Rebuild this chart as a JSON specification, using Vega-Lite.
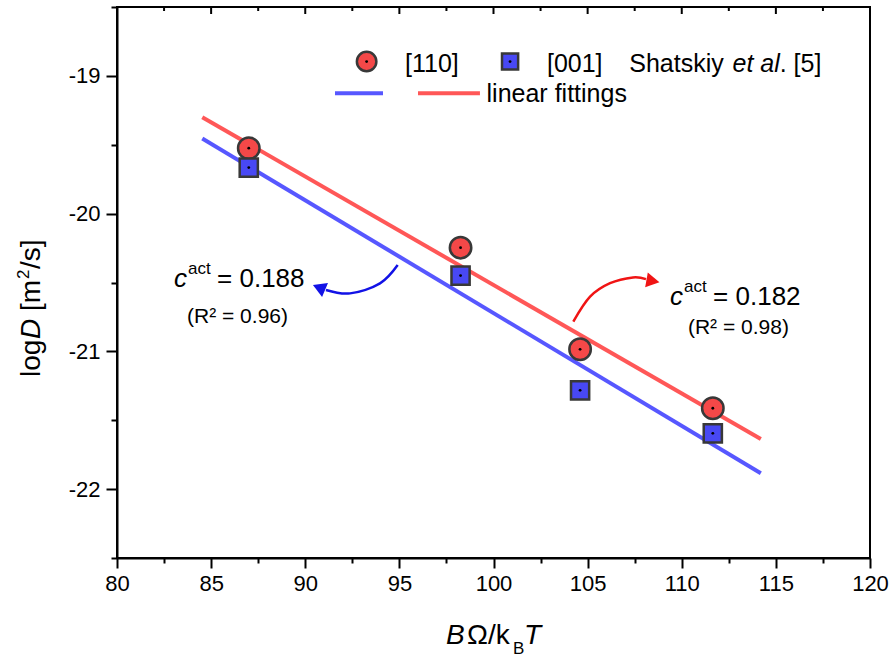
{
  "$schema": "https://vega.github.io/schema/vega-lite/v6.json",
  "width": 753,
  "height": 551,
  "autosize": {"type": "none"},
  "padding": {"left": 117, "top": 7, "right": 24, "bottom": 99},
  "background": "white",
  "config": {
    "view": {"stroke": "black", "strokeWidth": 2},
    "font": "Liberation Sans",
    "text": {"font": "Liberation Sans", "color": "black"}
  },
  "datasets": {
    "points": [
      {"series": "[110]", "x": 87.0, "y": -19.525},
      {"series": "[110]", "x": 98.25, "y": -20.247},
      {"series": "[110]", "x": 104.6, "y": -20.985},
      {"series": "[110]", "x": 111.65, "y": -21.413},
      {"series": "[001]", "x": 87.0, "y": -19.666},
      {"series": "[001]", "x": 98.25, "y": -20.45},
      {"series": "[001]", "x": 104.6, "y": -21.283},
      {"series": "[001]", "x": 111.65, "y": -21.595}
    ],
    "fits": [
      {"series": "[110]", "x": 84.53, "y": -19.3},
      {"series": "[110]", "x": 114.2, "y": -21.636},
      {"series": "[001]", "x": 84.53, "y": -19.455},
      {"series": "[001]", "x": 114.2, "y": -21.885}
    ],
    "topTicks": [
      {"x": 82.5, "y": -18.5, "major": false},
      {"x": 85, "y": -18.5, "major": true},
      {"x": 87.5, "y": -18.5, "major": false},
      {"x": 90, "y": -18.5, "major": true},
      {"x": 92.5, "y": -18.5, "major": false},
      {"x": 95, "y": -18.5, "major": true},
      {"x": 97.5, "y": -18.5, "major": false},
      {"x": 100, "y": -18.5, "major": true},
      {"x": 102.5, "y": -18.5, "major": false},
      {"x": 105, "y": -18.5, "major": true},
      {"x": 107.5, "y": -18.5, "major": false},
      {"x": 110, "y": -18.5, "major": true},
      {"x": 112.5, "y": -18.5, "major": false},
      {"x": 115, "y": -18.5, "major": true},
      {"x": 117.5, "y": -18.5, "major": false}
    ],
    "arrows": [
      {"series": "[001]", "i": 0, "x": 94.91, "y": -20.373},
      {"series": "[001]", "i": 1, "x": 93.97, "y": -20.506},
      {"series": "[001]", "i": 2, "x": 92.38, "y": -20.579},
      {"series": "[001]", "i": 3, "x": 91.1, "y": -20.554},
      {"series": "[110]", "i": 0, "x": 104.24, "y": -20.784},
      {"series": "[110]", "i": 1, "x": 105.13, "y": -20.603},
      {"series": "[110]", "i": 2, "x": 106.19, "y": -20.505},
      {"series": "[110]", "i": 3, "x": 107.41, "y": -20.463},
      {"series": "[110]", "i": 4, "x": 108.1, "y": -20.476}
    ],
    "heads": [
      {"series": "[001]", "x": 90.73, "y": -20.536},
      {"series": "[110]", "x": 108.47, "y": -20.489}
    ],
    "cact": [
      {"series": "[001]", "x": 83.03, "y": -20.532, "value": "= 0.188"},
      {"series": "[110]", "x": 109.38, "y": -20.663, "value": "= 0.182"}
    ],
    "r2": [
      {"series": "[001]", "x": 83.72, "y": -20.791, "label": "(R² = 0.96)"},
      {"series": "[110]", "x": 110.33, "y": -20.874, "label": "(R² = 0.98)"}
    ],
    "legendMarks": [
      {"series": "[110]", "x": 93.26, "y": -18.896},
      {"series": "[001]", "x": 100.88, "y": -18.896}
    ],
    "legendLines": [
      {"series": "[001]", "x": 91.58, "y": -19.126},
      {"series": "[001]", "x": 94.13, "y": -19.126},
      {"series": "[110]", "x": 95.99, "y": -19.126},
      {"series": "[110]", "x": 99.28, "y": -19.126}
    ],
    "legendText": [
      {"x": 95.3, "y": -18.971, "text": "[110]"},
      {"x": 102.84, "y": -18.971, "text": "[001]"},
      {"x": 107.21, "y": -18.971, "text": "Shatskiy"},
      {"x": 115.2, "y": -18.971, "text": ". [5]"},
      {"x": 99.63, "y": -19.189, "text": "linear fittings"}
    ],
    "legendItalic": [
      {"x": 112.7, "y": -18.971, "text": "et al"}
    ],
    "xTitle": [{"x": 97.48, "y": -23.125}],
    "yTitle": [{"x": 75.91, "y": -21.186}]
  },
  "encoding": {
    "x": {"field": "x", "type": "quantitative", "scale": {"domain": [80, 120], "nice": false, "zero": false},
      "axis": {"orient": "bottom", "values": [80, 82.5, 85, 87.5, 90, 92.5, 95, 97.5, 100, 102.5, 105, 107.5, 110, 112.5, 115, 117.5, 120],
        "labelExpr": "datum.value % 5 === 0 ? format(datum.value, 'd') : ''", "title": null, "grid": false,
        "domainColor": "black", "domainWidth": 2, "tickColor": "black", "tickWidth": 2,
        "tickSize": {"condition": {"test": "datum.value % 5 === 0", "value": 10}, "value": 5},
        "labelFontSize": 22, "labelFont": "Liberation Sans", "labelColor": "black", "labelPadding": 5,
        "labelFlush": false, "labelOverlap": false}},
    "y": {"field": "y", "type": "quantitative", "scale": {"domain": [-22.5, -18.5], "nice": false, "zero": false},
      "axis": {"orient": "left", "values": [-22.5, -22, -21.5, -21, -20.5, -20, -19.5, -19, -18.5],
        "labelExpr": "datum.value % 1 === 0 ? '-' + format(-datum.value, 'd') : ''", "title": null, "grid": false,
        "domainColor": "black", "domainWidth": 2, "tickColor": "black", "tickWidth": 2,
        "tickSize": {"condition": {"test": "datum.value % 1 === 0", "value": 11}, "value": 6},
        "labelFontSize": 22, "labelFont": "Liberation Sans", "labelColor": "black", "labelPadding": 6,
        "labelFlush": false, "labelOverlap": false}}
  },
  "layer": [
    {
      "data": {"name": "fits"},
      "mark": {"type": "line", "strokeWidth": 4},
      "encoding": {
        "color": {"field": "series", "type": "nominal", "scale": {"domain": ["[110]", "[001]"], "range": ["#ff5757", "#5757ff"]}, "legend": null},
        "detail": {"field": "series"}
      }
    },
    {
      "data": {"name": "topTicks"},
      "transform": [{"filter": "datum.major"}],
      "mark": {"type": "tick", "orient": "vertical", "size": 7, "thickness": 2, "color": "black", "yOffset": 3.5, "opacity": 1},
      "encoding": {}
    },
    {
      "data": {"name": "topTicks"},
      "transform": [{"filter": "!datum.major"}],
      "mark": {"type": "tick", "orient": "vertical", "size": 4, "thickness": 2, "color": "black", "yOffset": 2, "opacity": 1},
      "encoding": {}
    },
    {
      "data": {"name": "points"},
      "transform": [{"filter": "datum.series === '[110]'"}],
      "mark": {"type": "point", "shape": "circle", "filled": true, "size": 460, "fill": "#f44848", "stroke": "#383838", "strokeWidth": 2.5, "opacity": 1},
      "encoding": {}
    },
    {
      "data": {"name": "points"},
      "transform": [{"filter": "datum.series === '[001]'"}],
      "mark": {"type": "point", "shape": "square", "filled": true, "size": 330, "fill": "#4848f4", "stroke": "#383838", "strokeWidth": 2.5, "opacity": 1},
      "encoding": {}
    },
    {
      "data": {"name": "points"},
      "mark": {"type": "point", "shape": "circle", "filled": true, "size": 8, "color": "black", "opacity": 1},
      "encoding": {}
    },
    {
      "data": {"name": "arrows"},
      "transform": [{"filter": "datum.series === '[001]'"}],
      "mark": {"type": "line", "strokeWidth": 2.5, "color": "#1212e6", "interpolate": "cardinal"},
      "encoding": {"order": {"field": "i", "type": "quantitative"}}
    },
    {
      "data": {"name": "arrows"},
      "transform": [{"filter": "datum.series === '[110]'"}],
      "mark": {"type": "line", "strokeWidth": 2.5, "color": "#f01414", "interpolate": "cardinal"},
      "encoding": {"order": {"field": "i", "type": "quantitative"}}
    },
    {
      "data": {"name": "heads"},
      "transform": [{"filter": "datum.series === '[001]'"}],
      "mark": {"type": "point", "shape": "triangle-left", "filled": true, "size": 230, "color": "#1212e6", "angle": 23, "opacity": 1},
      "encoding": {}
    },
    {
      "data": {"name": "heads"},
      "transform": [{"filter": "datum.series === '[110]'"}],
      "mark": {"type": "point", "shape": "triangle-right", "filled": true, "size": 230, "color": "#f01414", "angle": 10, "opacity": 1},
      "encoding": {}
    },
    {
      "data": {"name": "cact"},
      "mark": {"type": "text", "text": "c", "fontSize": 26, "fontStyle": "italic", "align": "left", "baseline": "alphabetic"},
      "encoding": {}
    },
    {
      "data": {"name": "cact"},
      "mark": {"type": "text", "text": "act", "fontSize": 17, "align": "left", "baseline": "alphabetic", "dx": 14, "dy": -13},
      "encoding": {}
    },
    {
      "data": {"name": "cact"},
      "mark": {"type": "text", "fontSize": 26, "align": "left", "baseline": "alphabetic", "dx": 43},
      "encoding": {"text": {"field": "value"}}
    },
    {
      "data": {"name": "r2"},
      "mark": {"type": "text", "fontSize": 21, "align": "left", "baseline": "alphabetic"},
      "encoding": {"text": {"field": "label"}}
    },
    {
      "data": {"name": "legendLines"},
      "mark": {"type": "line", "strokeWidth": 4},
      "encoding": {
        "color": {"field": "series", "type": "nominal", "scale": {"domain": ["[110]", "[001]"], "range": ["#ff5757", "#5757ff"]}, "legend": null},
        "detail": {"field": "series"}
      }
    },
    {
      "data": {"name": "legendMarks"},
      "transform": [{"filter": "datum.series === '[110]'"}],
      "mark": {"type": "point", "shape": "circle", "filled": true, "size": 380, "fill": "#f44848", "stroke": "#383838", "strokeWidth": 2.5, "opacity": 1},
      "encoding": {}
    },
    {
      "data": {"name": "legendMarks"},
      "transform": [{"filter": "datum.series === '[001]'"}],
      "mark": {"type": "point", "shape": "square", "filled": true, "size": 260, "fill": "#4848f4", "stroke": "#383838", "strokeWidth": 2.5, "opacity": 1},
      "encoding": {}
    },
    {
      "data": {"name": "legendMarks"},
      "mark": {"type": "point", "shape": "circle", "filled": true, "size": 8, "color": "black", "opacity": 1},
      "encoding": {}
    },
    {
      "data": {"name": "legendText"},
      "mark": {"type": "text", "fontSize": 25, "align": "left", "baseline": "alphabetic"},
      "encoding": {"text": {"field": "text"}}
    },
    {
      "data": {"name": "legendItalic"},
      "mark": {"type": "text", "fontSize": 25, "fontStyle": "italic", "align": "left", "baseline": "alphabetic"},
      "encoding": {"text": {"field": "text"}}
    },
    {
      "data": {"name": "xTitle"},
      "mark": {"type": "text", "text": "B", "fontSize": 28, "fontStyle": "italic", "align": "left", "baseline": "alphabetic"},
      "encoding": {}
    },
    {
      "data": {"name": "xTitle"},
      "mark": {"type": "text", "text": "Ω/k", "fontSize": 28, "align": "left", "baseline": "alphabetic", "dx": 21},
      "encoding": {}
    },
    {
      "data": {"name": "xTitle"},
      "mark": {"type": "text", "text": "B", "fontSize": 17, "align": "left", "baseline": "alphabetic", "dx": 67, "dy": 10},
      "encoding": {}
    },
    {
      "data": {"name": "xTitle"},
      "mark": {"type": "text", "text": "T", "fontSize": 28, "fontStyle": "italic", "align": "left", "baseline": "alphabetic", "dx": 78},
      "encoding": {}
    },
    {
      "data": {"name": "yTitle"},
      "mark": {"type": "text", "text": "log", "fontSize": 28, "angle": 270, "align": "left", "baseline": "alphabetic"},
      "encoding": {}
    },
    {
      "data": {"name": "yTitle"},
      "mark": {"type": "text", "text": "D", "fontSize": 28, "fontStyle": "italic", "angle": 270, "align": "left", "baseline": "alphabetic", "dx": 38},
      "encoding": {}
    },
    {
      "data": {"name": "yTitle"},
      "mark": {"type": "text", "text": "[m", "fontSize": 28, "angle": 270, "align": "left", "baseline": "alphabetic", "dx": 66},
      "encoding": {}
    },
    {
      "data": {"name": "yTitle"},
      "mark": {"type": "text", "text": "2", "fontSize": 17, "angle": 270, "align": "left", "baseline": "alphabetic", "dx": 98, "dy": -11},
      "encoding": {}
    },
    {
      "data": {"name": "yTitle"},
      "mark": {"type": "text", "text": "/s]", "fontSize": 28, "angle": 270, "align": "left", "baseline": "alphabetic", "dx": 108},
      "encoding": {}
    }
  ]
}
